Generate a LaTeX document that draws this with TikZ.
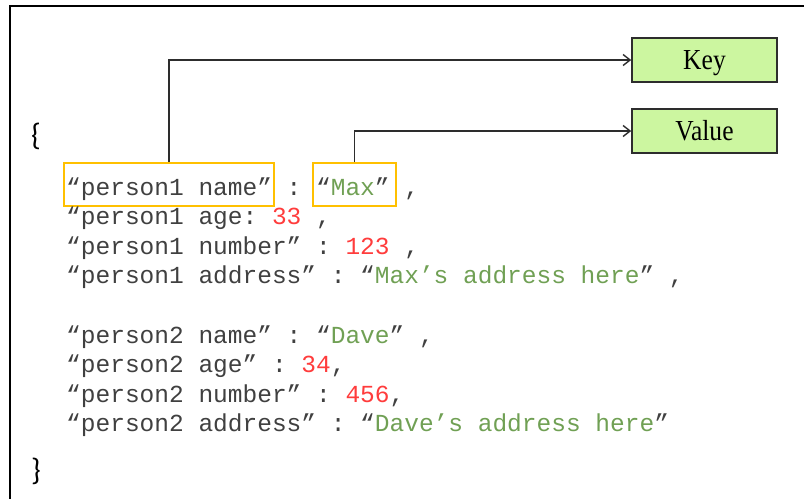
\documentclass[tikz,border=0pt]{standalone}
\usepackage{fontspec}
\setmainfont{Liberation Serif}
\newfontfamily\codefont{Liberation Mono}
\newfontfamily\bracefont{Carlito}
\usetikzlibrary{arrows.meta}

\definecolor{codegray}{RGB}{64,64,64}
\definecolor{codegreen}{RGB}{112,160,84}
\definecolor{codered}{RGB}{255,60,60}
\definecolor{boxgreen}{RGB}{204,246,160}
\definecolor{markorange}{RGB}{255,192,0}
\definecolor{linegray}{RGB}{45,45,45}

\newcommand{\jstr}[1]{\textcolor{codegreen}{#1}}
\newcommand{\jnum}[1]{\textcolor{codered}{#1}}

\tikzset{
  codeline/.style={anchor=base west, inner sep=0pt, text=codegray,
    font=\codefont\fontsize{24.5}{29}\selectfont\frenchspacing},
  brace/.style={inner sep=0pt, font=\bracefont\fontsize{31}{34}\selectfont},
  label box/.style={draw=linegray, line width=1.6pt, fill=boxgreen,
    minimum width=145pt, minimum height=44pt, inner sep=0pt,
    text height=19pt, text depth=0pt,
    font=\fontsize{29}{32}\selectfont},
  mark box/.style={draw=markorange, line width=2pt, inner sep=0pt},
  conn/.style={draw=linegray, line width=1.4pt,
    -{Straight Barb[length=7pt,width=11pt,line width=1.4pt]}},
  frame/.style={line width=2.2pt, black}
}

\begin{document}
\begin{tikzpicture}[x=1pt,y=-1pt]
\useasboundingbox (0,0) rectangle (804,499);

% frame lines (top and left)
\draw[frame] (9,6) -- (804,6);
\draw[frame] (10.3,5) -- (10.3,499);

% braces
\node[brace] (lbrace) at (36,136) {\{};
\node[brace] (rbrace) at (36,471) {\}};

% key / value marks on the first entry
\node[mark box, minimum width=210pt, minimum height=43pt] (kmark) at (169,184.5) {};
\node[mark box, minimum width=83pt, minimum height=43pt] (vmark) at (354.5,184.5) {};

% code lines
\node[codeline] (l1) at (66,195)   {“person1 name” : “\jstr{Max}” ,};
\node[codeline] (l2) at (66,224.6) {“person1 age: \jnum{33} ,};
\node[codeline] (l3) at (66,254.2) {“person1 number” : \jnum{123} ,};
\node[codeline] (l4) at (66,283.8) {“person1 address” : “\jstr{Max’s address here}” ,};
\node[codeline] (l5) at (66,343)   {“person2 name” : “\jstr{Dave}” ,};
\node[codeline] (l6) at (66,372.6) {“person2 age” : \jnum{34},};
\node[codeline] (l7) at (66,402.2) {“person2 number” : \jnum{456},};
\node[codeline] (l8) at (66,431.8) {“person2 address” : “\jstr{Dave’s address here}”};

% legend boxes
\node[label box] (key) at (704.5,60)  {\scalebox{0.88}[1]{Key}};
\node[label box] (val) at (704.5,131) {\scalebox{0.88}[1]{Value}};

% connectors
\draw[conn] (kmark.north) |- (key.west);
\draw[conn] (vmark.north) |- (val.west);
\end{tikzpicture}
\end{document}
